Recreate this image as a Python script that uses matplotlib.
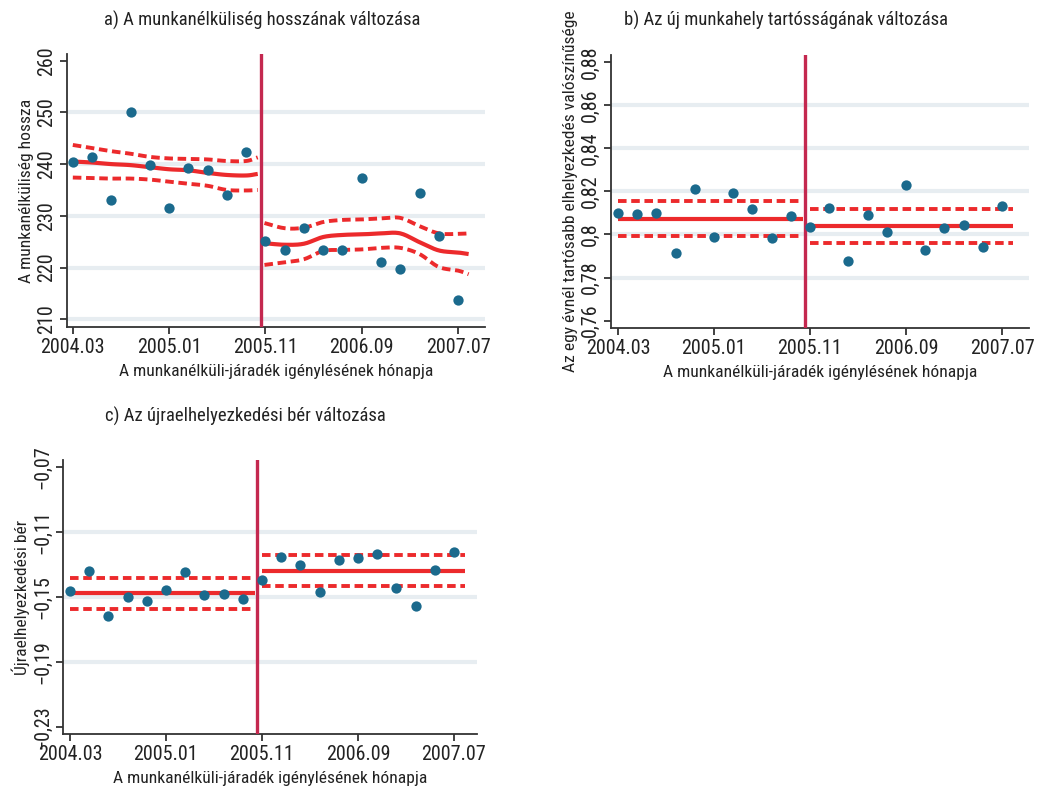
import numpy as np
import matplotlib
matplotlib.use("Agg")
import matplotlib.pyplot as plt
import matplotlib.font_manager as fm
from matplotlib.ticker import FixedLocator, FuncFormatter

# ---------------- font choice (condensed look) ----------------
_names = {f.name for f in fm.fontManager.ttflist}
_cond = [f for f in fm.fontManager.ttflist if f.stretch == 'condensed']
FONT = 'DejaVu Sans'
STRETCH = 'normal'
for cand in ['Roboto Condensed', 'Liberation Sans Narrow', 'DejaVu Sans Condensed']:
    if cand in _names:
        FONT = cand
        break
else:
    if any(f.name == 'DejaVu Sans' for f in _cond):
        STRETCH = 'condensed'
plt.rcParams['font.family'] = [FONT, 'DejaVu Sans']
plt.rcParams['font.stretch'] = STRETCH

# ---------------- data ----------------
months = ['2004.03', '2004.05', '2004.07', '2004.09', '2004.11', '2005.01', '2005.03',
          '2005.05', '2005.07', '2005.09', '2005.11', '2006.01', '2006.03', '2006.05',
          '2006.07', '2006.09', '2006.11', '2007.01', '2007.03', '2007.05', '2007.07']
tick_labels = ['2004.03', '2005.01', '2005.11', '2006.09', '2007.07']
cutoff_month = 19.5          # months after 2004.03 (between 2005.09 and 2005.11)

# panel a: unemployment duration
dur = [240.5, 241.3, 233.0, 250.0, 239.9, 231.6, 239.2, 238.9, 234.1, 242.3,
       225.2, 223.3, 227.6, 223.3, 223.3, 237.3, 221.0, 219.8, 234.5, 226.0, 213.7]
fit_a_pre_x = [0, 2, 4, 6, 8, 10, 12, 14, 16, 18, 19.2]
fit_a_pre = [240.5, 240.3, 240.0, 239.8, 239.4, 239.0, 238.8, 238.3, 237.9, 237.8, 238.1]
fit_a_pre_hi = [243.7, 243.1, 242.5, 242.0, 241.4, 241.1, 241.0, 240.9, 240.6, 240.6, 241.3]
fit_a_pre_lo = [237.4, 237.3, 237.2, 237.2, 237.0, 236.6, 236.2, 235.8, 235.0, 234.9, 235.0]
fit_a_post_x = [19.9, 22, 24, 26, 28, 30, 32, 34, 36, 38, 40, 41.1]
fit_a_post = [224.7, 224.4, 224.6, 225.9, 226.3, 226.4, 226.6, 226.6, 224.9, 223.3, 222.9, 222.6]
fit_a_post_hi = [228.6, 227.6, 227.7, 228.8, 229.2, 229.3, 229.5, 229.6, 228.0, 226.6, 226.5, 226.6]
fit_a_post_lo = [220.5, 221.0, 221.6, 223.2, 223.4, 223.5, 223.8, 223.8, 222.6, 220.1, 219.4, 218.7]

# panel b: probability of job lasting > 1 year
prob = [0.8098, 0.8096, 0.8101, 0.7916, 0.8209, 0.7988, 0.8192, 0.8117, 0.7985, 0.8087,
        0.8033, 0.8123, 0.7878, 0.8089, 0.8010, 0.8231, 0.7928, 0.8028, 0.8044, 0.7940, 0.8132]
fit_b_pre = (0.8073, 0.7993, 0.8157)     # level, low, high
fit_b_post = (0.8039, 0.7959, 0.8118)

# panel c: re-employment wage
wage = [-0.1465, -0.1344, -0.1621, -0.1504, -0.1529, -0.1459, -0.1348, -0.1492, -0.1486, -0.1516,
        -0.1400, -0.1258, -0.1307, -0.1469, -0.1276, -0.1260, -0.1235, -0.1447, -0.1555, -0.1338, -0.1227]
fit_c_pre = (-0.1479, -0.1578, -0.1383)
fit_c_post = (-0.1340, -0.1436, -0.1246)
fit_const_pre_x = [0, 19.3]
fit_const_post_x = [20.0, 41.1]

# ---------------- helpers ----------------
def month_index(m):
    y, mo = m.split('.')
    return (int(y) - 2004) * 12 + int(mo) - 3

x = np.array([month_index(m) for m in months])
tick_pos = [month_index(t) for t in tick_labels]

DOT = '#1b6a8d'
RED = '#ec2a2c'
VLINE = '#c4284f'
GRID = '#e7edf1'
SPINE = '#333333'
TXT = '#222222'
DASH = (0, (2.2, 1.2))


def smooth(xs, ys, n=12):
    """Catmull-Rom spline through the read points (for drawing only)."""
    xs = np.asarray(xs, float)
    ys = np.asarray(ys, float)
    P = np.column_stack([xs, ys])
    P = np.vstack([2 * P[0] - P[1], P, 2 * P[-1] - P[-2]])
    out = []
    t = np.linspace(0, 1, n, endpoint=False)[:, None]
    for i in range(1, len(P) - 2):
        p0, p1, p2, p3 = P[i - 1], P[i], P[i + 1], P[i + 2]
        seg = 0.5 * ((2 * p1) + (-p0 + p2) * t + (2 * p0 - 5 * p1 + 4 * p2 - p3) * t ** 2
                     + (-p0 + 3 * p1 - 3 * p2 + p3) * t ** 3)
        out.append(seg)
    out.append(P[-2][None, :])
    out = np.vstack(out)
    return out[:, 0], out[:, 1]


def comma(v, pos=None, nd=2):
    s = f"{v:.{nd}f}".replace('.', ',').replace('-', '\u2212')
    if s.endswith('0') and ',' in s:
        s = s.rstrip('0').rstrip(',')
    return s


def style(ax, yticks, grid_vals, ylim, xlim, fmt, ylabel):
    for sp in ['top', 'right']:
        ax.spines[sp].set_visible(False)
    for sp in ['left', 'bottom']:
        ax.spines[sp].set_color(SPINE)
        ax.spines[sp].set_linewidth(1.3)
    ax.set_xlim(*xlim)
    ax.set_ylim(*ylim)
    ax.xaxis.set_major_locator(FixedLocator(tick_pos))
    ax.set_xticklabels(tick_labels)
    ax.yaxis.set_major_locator(FixedLocator(yticks))
    ax.yaxis.set_major_formatter(FuncFormatter(fmt))
    ax.tick_params(axis='both', direction='out', length=5, width=1.3, color=SPINE,
                   labelsize=14.5, labelcolor=TXT, pad=3)
    for lab in ax.get_yticklabels():
        lab.set_rotation(90)
        lab.set_va('center')
    for g in grid_vals:
        ax.axhline(g, color=GRID, lw=3.0, zorder=0)
    ax.set_xlabel('A munkanélküli-járadék igénylésének hónapja', fontsize=12.6,
                  color=TXT, labelpad=5)
    ax.set_ylabel(ylabel, fontsize=12.6, color=TXT, labelpad=2)
    ax.axvline(cutoff_month, color=VLINE, lw=2.4, zorder=3)


fig = plt.figure(figsize=(10.41, 7.89), dpi=100)
fig.patch.set_facecolor('white')

# ---------------- panel a ----------------
axa = fig.add_axes([0.0644, 0.5856, 0.4015, 0.3460])
style(axa, [210, 220, 230, 240, 250, 260], [210, 220, 230, 240, 250], (208.5, 261.3),
      (-0.6, 42.8), lambda v, p: f"{v:.0f}", 'A munkanélküliség hossza')
for xs, lv, hi, lo in [(fit_a_pre_x, fit_a_pre, fit_a_pre_hi, fit_a_pre_lo),
                       (fit_a_post_x, fit_a_post, fit_a_post_hi, fit_a_post_lo)]:
    axa.plot(*smooth(xs, lv), color=RED, lw=3.0, zorder=4, solid_capstyle='butt')
    axa.plot(*smooth(xs, hi), color=RED, lw=2.8, ls=DASH, zorder=4)
    axa.plot(*smooth(xs, lo), color=RED, lw=2.8, ls=DASH, zorder=4)
axa.scatter(x, dur, s=55, color=DOT, zorder=5, linewidths=0)

# ---------------- panel b ----------------
axb = fig.add_axes([0.5869, 0.5843, 0.4015, 0.3460])
style(axb, [0.76, 0.78, 0.80, 0.82, 0.84, 0.86, 0.88], [0.78, 0.80, 0.82, 0.84, 0.86],
      (0.7566, 0.8832), (-0.73, 42.8), comma,
      'Az egy évnél tartósabb elhelyezkedés valószínűsége')
for xs, (lv, lo, hi) in [(fit_const_pre_x, fit_b_pre), (fit_const_post_x, fit_b_post)]:
    axb.plot(xs, [lv, lv], color=RED, lw=3.0, zorder=4, solid_capstyle='butt')
    axb.plot(xs, [hi, hi], color=RED, lw=2.8, ls=DASH, zorder=4)
    axb.plot(xs, [lo, lo], color=RED, lw=2.8, ls=DASH, zorder=4)
axb.scatter(x, prob, s=55, color=DOT, zorder=5, linewidths=0)

# ---------------- panel c ----------------
axc = fig.add_axes([0.0605, 0.0697, 0.3977, 0.3473])
style(axc, [-0.23, -0.19, -0.15, -0.11, -0.07], [-0.19, -0.15, -0.11],
      (-0.2345, -0.0659), (-0.73, 42.4), comma, 'Újraelhelyezkedési bér')
for xs, (lv, lo, hi) in [(fit_const_pre_x, fit_c_pre), (fit_const_post_x, fit_c_post)]:
    axc.plot(xs, [lv, lv], color=RED, lw=3.0, zorder=4, solid_capstyle='butt')
    axc.plot(xs, [hi, hi], color=RED, lw=2.8, ls=DASH, zorder=4)
    axc.plot(xs, [lo, lo], color=RED, lw=2.8, ls=DASH, zorder=4)
axc.scatter(x, wage, s=55, color=DOT, zorder=5, linewidths=0)

# ---------------- titles ----------------
fig.text(262 / 1041, 1 - 20 / 789, 'a) A munkanélküliség hosszának változása',
         ha='center', va='center', fontsize=13.4, color=TXT)
fig.text(786 / 1041, 1 - 20 / 789, 'b) Az új munkahely tartósságának változása',
         ha='center', va='center', fontsize=13.4, color=TXT)
fig.text(245 / 1041, 1 - 416 / 789, 'c) Az újraelhelyezkedési bér változása',
         ha='center', va='center', fontsize=13.4, color=TXT)

fig.savefig('out.png', dpi=100, facecolor='white')
